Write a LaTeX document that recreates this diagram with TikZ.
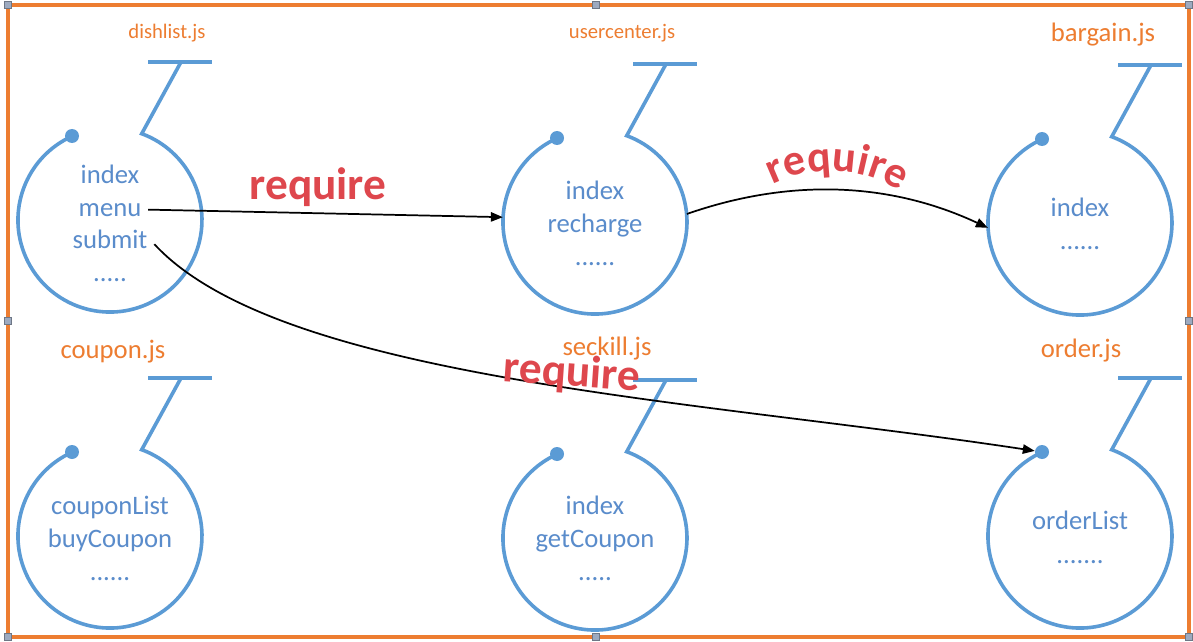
\documentclass[tikz,border=0pt]{standalone}
\usepackage{fontspec}
\setmainfont{Carlito}
\usetikzlibrary{arrows.meta,decorations.text}
\definecolor{blu}{HTML}{5B9BD5}
\definecolor{tblu}{HTML}{5A8CCB}
\definecolor{org}{HTML}{ED7D31}
\definecolor{req}{HTML}{DE474D}
\definecolor{hdlc}{HTML}{9DAAC0}
\tikzset{
  shp/.style={draw=blu, line width=2.7pt},
  body/.style={circle, minimum size=138pt, inner sep=0pt},
  knob/.style={circle, fill=blu, inner sep=0pt, minimum size=10.5pt},
  itxt/.style={text=tblu, font=\fontsize{20}{24}\selectfont, anchor=base, inner sep=2pt},
  lbl/.style={text=org, font=\fontsize{20}{24}\selectfont, inner sep=1pt},
  lbls/.style={text=org, font=\fontsize{15.5}{19}\selectfont, inner sep=1pt},
  reqt/.style={text=req, font=\fontsize{34}{40}\selectfont\bfseries, inner sep=1pt},
  conn/.style={-{Triangle[length=9pt,width=7pt]}, line width=1.3pt, black},
  hdl/.style={rectangle, fill=hdlc, draw=hdlc!70!black, line width=0.3pt, minimum size=5pt, inner sep=0pt},
}
\newcommand\modfig[3]{%
  \node[body] (#1) at (#2,#3) {};
  \draw[shp] (#2-37.9,#3-83.8) arc[start angle=-114.3, end angle=-429.8, radius=92] -- (#2+71,#3-158);
  \draw[shp] (#2+38,#3-158) -- (#2+102,#3-158);
  \node[knob] (#1d) at (#2-38,#3-84) {};
}
\begin{document}
\begin{tikzpicture}[x=0.75pt, y=-0.75pt]
\useasboundingbox (0,0) rectangle (1193,642);
\fill[white] (0,0) rectangle (1193,642);
% frame
\draw[org, line width=2.7pt] (8,5) rectangle (1189,637);
\foreach \hx/\hy [count=\i] in {8/5, 596/5, 1189/5, 8/321, 1189/321, 8/637, 596/637, 1189/637}
  \node[hdl] (h\i) at (\hx,\hy) {};
% modules
\modfig{b1}{110}{220}
\modfig{b2}{595}{222}
\modfig{b3}{1080}{223}
\modfig{b4}{110}{536}
\modfig{b5}{595}{538}
\modfig{b6}{1080}{536}
% labels
\node[lbls] (l1) at (167,33) {dishlist.js};
\node[lbls] (l2) at (622,33) {usercenter.js};
\node[lbl] (l3) at (1103,35) {bargain.js};
\node[lbl] (l4) at (113,352) {coupon.js};
\node[lbl] (l5) at (607,349) {seckill.js};
\node[lbl] (l6) at (1081,351) {order.js};
% contents
\node[itxt] (t1a) at (110,183) {index};
\node[itxt] (menu) at (110,216) {menu};
\node[itxt] (submit) at (110,248) {submit};
\node[itxt] (t1d) at (110,281) {.....};
\node[itxt] (t2a) at (595,199) {index};
\node[itxt] (t2b) at (595,232) {recharge};
\node[itxt] (t2c) at (595,265) {......};
\node[itxt] (t3a) at (1080,216) {index};
\node[itxt] (t3b) at (1080,249) {......};
\node[itxt] (t4a) at (110,514) {couponList};
\node[itxt] (t4b) at (110,547) {buyCoupon};
\node[itxt] (t4c) at (110,580) {......};
\node[itxt] (t5a) at (595,514) {index};
\node[itxt] (t5b) at (595,547) {getCoupon};
\node[itxt] (t5c) at (595,580) {.....};
\node[itxt] (t6a) at (1080,529) {orderList};
\node[itxt] (t6b) at (1080,563) {.......};
% connectors
\draw[conn] ([xshift=3pt]menu.east) -- (b2.177);
\draw[conn] (b2.5) .. controls (790,178) and (890,182) .. (b3.183);
\draw[conn] ([xshift=3pt,yshift=-4pt]submit.east) .. controls (280,380) and (700,400) .. (b6d);
% require labels
\node[reqt] (r1) at (318,187) {require};
\node[reqt, rotate=-4] (r3) at (572,374) {require};
\path[decorate, decoration={text along path, text align=center,
  text={|\fontsize{33}{38}\selectfont\bfseries\color{req}|require}}]
  (757,194) .. controls (800,162) and (870,162) .. (915,202);
\end{tikzpicture}
\end{document}
